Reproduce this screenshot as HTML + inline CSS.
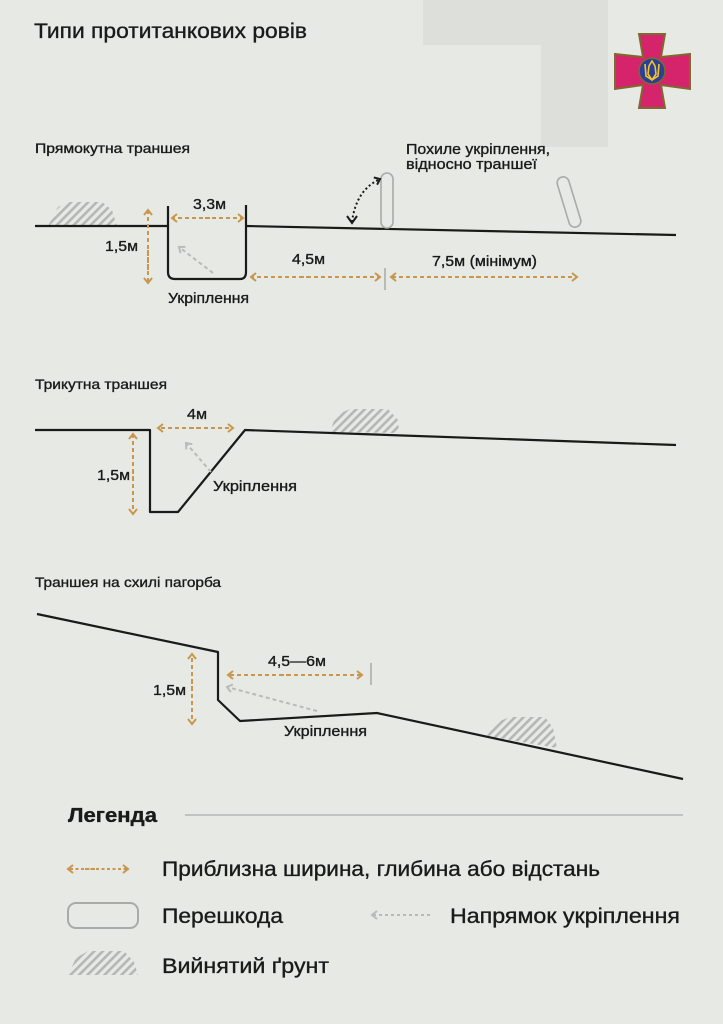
<!DOCTYPE html>
<html><head><meta charset="utf-8"><style>
html,body{margin:0;padding:0;background:#e6e9e4;}
svg{display:block;}
text{font-family:"Liberation Sans",sans-serif;fill:#1a1a1a;stroke:#1a1a1a;stroke-width:0.35;}
</style></head><body>
<svg width="723" height="1024" viewBox="0 0 723 1024" xmlns="http://www.w3.org/2000/svg">
<defs>
<pattern id="h" width="6" height="6" patternUnits="userSpaceOnUse" patternTransform="rotate(45)">
<rect width="6" height="6" fill="#e6e9e4"/><rect width="2.6" height="6" fill="#b5b7b4"/>
</pattern>
<marker id="oa" markerWidth="8" markerHeight="10" refX="6" refY="5" orient="auto" markerUnits="userSpaceOnUse"><path d="M1,1 L6,5 L1,9" fill="none" stroke="#c9964e" stroke-width="2"/></marker>
<marker id="ga" markerWidth="8" markerHeight="10" refX="6" refY="5" orient="auto" markerUnits="userSpaceOnUse"><path d="M1,1 L6,5 L1,9" fill="none" stroke="#b9bbb8" stroke-width="2"/></marker>
<marker id="ka" markerWidth="8" markerHeight="10" refX="6" refY="5" orient="auto" markerUnits="userSpaceOnUse"><path d="M1,1 L6,5 L1,9" fill="none" stroke="#1a1a1a" stroke-width="2"/></marker>
</defs>
<rect width="723" height="1024" fill="#e6e9e4"/>
<path d="M423,0 H608 V147 H541 V45 H423 Z" fill="#dcdfda"/>

<!-- emblem -->
<path d="M639,34 H665 L661,57 L690,54 V89 L661,85 L665,108 H639 L643,85 L615,89 V54 L643,57 Z" fill="#d5236c" stroke="#7d6a2e" stroke-width="2"/>
<circle cx="652" cy="71" r="13" fill="#2b3f94" stroke="#7d6a2e" stroke-width="1.5"/>
<path d="M652,61 L649,66 L648,74 L652,80 L656,74 L655,66 Z M645,64 L646,76 L652,80 M659,64 L658,76 L652,80" fill="none" stroke="#f2c52a" stroke-width="1.6"/>

<text x="34" y="38" font-size="21" textLength="273" lengthAdjust="spacingAndGlyphs">Типи протитанкових ровів</text>

<!-- Section 1 -->
<text x="35" y="153" font-size="14" textLength="155" lengthAdjust="spacingAndGlyphs">Прямокутна траншея</text>
<path d="M48,226 L58,207 L70,202 L102,202 L112,210 L117,226 Z" fill="url(#h)"/>
<path d="M35,226 H168 V272 Q168,279 175,279 H240 Q246,279 246,272 V205" fill="none" stroke="#1a1a1a" stroke-width="2.2"/>
<line x1="168" y1="206" x2="168" y2="226" stroke="#1a1a1a" stroke-width="2.2"/>
<line x1="246" y1="226" x2="676" y2="235" stroke="#1a1a1a" stroke-width="2.2"/>
<g stroke="#c9964e" stroke-width="2" stroke-dasharray="4,3" fill="none">
<line x1="148" y1="270" x2="148" y2="210" marker-end="url(#oa)"/>
<line x1="148" y1="250" x2="148" y2="283" marker-end="url(#oa)"/>
<line x1="205" y1="218" x2="243" y2="218" marker-end="url(#oa)"/>
<line x1="210" y1="218" x2="172" y2="218" marker-end="url(#oa)"/>
<line x1="300" y1="277" x2="380" y2="277" marker-end="url(#oa)"/>
<line x1="310" y1="277" x2="251" y2="277" marker-end="url(#oa)"/>
<line x1="470" y1="277" x2="577" y2="277" marker-end="url(#oa)"/>
<line x1="480" y1="277" x2="391" y2="277" marker-end="url(#oa)"/>
</g>
<line x1="385" y1="268" x2="385" y2="290" stroke="#9a9a9a" stroke-width="1.2"/>
<text x="105" y="251" font-size="15" textLength="33" lengthAdjust="spacingAndGlyphs">1,5м</text>
<text x="193" y="209" font-size="15" textLength="33" lengthAdjust="spacingAndGlyphs">3,3м</text>
<text x="292" y="264" font-size="15" textLength="33" lengthAdjust="spacingAndGlyphs">4,5м</text>
<text x="432" y="266" font-size="15" textLength="105" lengthAdjust="spacingAndGlyphs">7,5м (мінімум)</text>
<text x="168" y="303" font-size="15" textLength="81" lengthAdjust="spacingAndGlyphs">Укріплення</text>
<line x1="213" y1="273" x2="179" y2="247" stroke="#b9bbb8" stroke-width="2" stroke-dasharray="4,3" marker-end="url(#ga)"/>
<rect x="381" y="173" width="12" height="55" rx="6" fill="none" stroke="#a9abaa" stroke-width="1.6"/>
<rect x="563" y="176" width="12" height="52" rx="6" fill="none" stroke="#a9abaa" stroke-width="1.6" transform="rotate(-17 569 202)"/>
<path d="M352,222 Q356,190 380,179" fill="none" stroke="#1a1a1a" stroke-width="2" stroke-dasharray="2,2.5" marker-end="url(#ka)"/>
<path d="M347,216 L352,223 L357,216" fill="none" stroke="#1a1a1a" stroke-width="2"/>
<text x="406" y="154" font-size="15" textLength="144" lengthAdjust="spacingAndGlyphs">Похиле укріплення,</text>
<text x="406" y="169" font-size="15" textLength="131" lengthAdjust="spacingAndGlyphs">відносно  траншеї</text>

<!-- Section 2 -->
<text x="35" y="389" font-size="14" textLength="132" lengthAdjust="spacingAndGlyphs">Трикутна траншея</text>
<path d="M330,432 L336,415 L350,409 L388,409 L398,420 L399,433 Z" fill="url(#h)"/>
<path d="M35,430 H150 V512 H178 L245,430 L676,445" fill="none" stroke="#1a1a1a" stroke-width="2.2" stroke-linejoin="round"/>
<g stroke="#c9964e" stroke-width="2" stroke-dasharray="4,3" fill="none">
<line x1="133" y1="480" x2="133" y2="434" marker-end="url(#oa)"/>
<line x1="133" y1="470" x2="133" y2="514" marker-end="url(#oa)"/>
<line x1="190" y1="428" x2="233" y2="428" marker-end="url(#oa)"/>
<line x1="200" y1="428" x2="158" y2="428" marker-end="url(#oa)"/>
</g>
<text x="97" y="480" font-size="15" textLength="33" lengthAdjust="spacingAndGlyphs">1,5м</text>
<text x="187" y="419" font-size="15" textLength="20" lengthAdjust="spacingAndGlyphs">4м</text>
<line x1="211" y1="472" x2="186" y2="443" stroke="#b9bbb8" stroke-width="2" stroke-dasharray="4,3" marker-end="url(#ga)"/>
<text x="213" y="491" font-size="15" textLength="84" lengthAdjust="spacingAndGlyphs">Укріплення</text>

<!-- Section 3 -->
<text x="35" y="587" font-size="14" textLength="186" lengthAdjust="spacingAndGlyphs">Траншея на схилі пагорба</text>
<path d="M487,736 L495,723 L510,717 L545,717 L553,728 L557,748 Z" fill="url(#h)"/>
<path d="M37,614 L218,652 V700 L240,721 L377,713 L683,779" fill="none" stroke="#1a1a1a" stroke-width="2.2" stroke-linejoin="round"/>
<g stroke="#c9964e" stroke-width="2" stroke-dasharray="4,3" fill="none">
<line x1="192" y1="690" x2="192" y2="654" marker-end="url(#oa)"/>
<line x1="192" y1="680" x2="192" y2="724" marker-end="url(#oa)"/>
<line x1="280" y1="675" x2="362" y2="675" marker-end="url(#oa)"/>
<line x1="290" y1="675" x2="228" y2="675" marker-end="url(#oa)"/>
</g>
<line x1="371" y1="663" x2="371" y2="685" stroke="#9a9a9a" stroke-width="1.2"/>
<text x="153" y="695" font-size="15" textLength="33" lengthAdjust="spacingAndGlyphs">1,5м</text>
<text x="268" y="666" font-size="15" textLength="58" lengthAdjust="spacingAndGlyphs">4,5—6м</text>
<line x1="317" y1="711" x2="227" y2="687" stroke="#b9bbb8" stroke-width="2" stroke-dasharray="4,3" marker-end="url(#ga)"/>
<text x="284" y="736" font-size="15" textLength="83" lengthAdjust="spacingAndGlyphs">Укріплення</text>

<!-- Legend -->
<text x="68" y="822" font-size="20" font-weight="bold" textLength="89" lengthAdjust="spacingAndGlyphs">Легенда</text>
<line x1="185" y1="815" x2="683" y2="815" stroke="#a9abaa" stroke-width="1.2"/>
<g stroke="#c9964e" stroke-width="2" stroke-dasharray="3,2.5" fill="none">
<line x1="85" y1="869" x2="128" y2="869" marker-end="url(#oa)"/>
<line x1="95" y1="869" x2="68" y2="869" marker-end="url(#oa)"/>
</g>
<text x="162" y="876" font-size="21" textLength="438" lengthAdjust="spacingAndGlyphs">Приблизна ширина, глибина або відстань</text>
<rect x="68" y="903" width="70" height="25" rx="8" fill="none" stroke="#a9abaa" stroke-width="2"/>
<text x="162" y="923" font-size="21" textLength="121" lengthAdjust="spacingAndGlyphs">Перешкода</text>
<line x1="430" y1="915" x2="372" y2="915" stroke="#b9bbb8" stroke-width="2" stroke-dasharray="3,3" marker-end="url(#ga)"/>
<text x="450" y="923" font-size="21" textLength="230" lengthAdjust="spacingAndGlyphs">Напрямок укріплення</text>
<path d="M68,975 L76,958 L88,951 L124,951 L134,962 L138,975 Z" fill="url(#h)"/>
<text x="162" y="973" font-size="21" textLength="167" lengthAdjust="spacingAndGlyphs">Вийнятий ґрунт</text>
</svg>
</body></html>
